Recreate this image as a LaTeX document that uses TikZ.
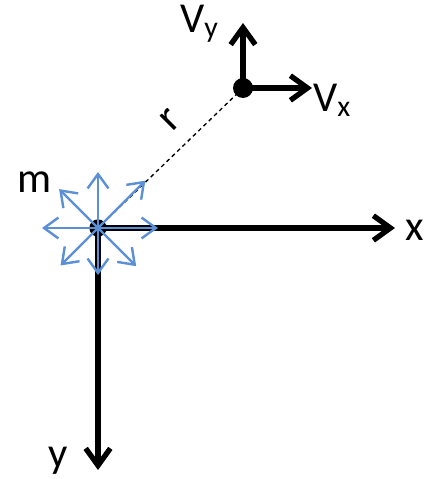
\documentclass[tikz,border=0pt]{standalone}
\usepackage{fontspec}
\setmainfont{Carlito}
\usetikzlibrary{arrows.meta}
\definecolor{forceblue}{HTML}{5B8FD6}
\tikzset{
  dot/.style={circle, fill=black, inner sep=0pt},
  axis/.style={-{Straight Barb[length=4.5mm, width=6.5mm]}, line width=4pt},
  push/.style={-{Straight Barb[length=3.8mm, width=5.5mm]}, line width=1.8pt, draw=forceblue},
  sep/.style={line width=1pt, dash pattern=on 3pt off 2.5pt},
  lbl/.style={font=\fontsize{32}{38}\selectfont, inner sep=0pt, anchor=base west}
}

\begin{document}
\begin{tikzpicture}[x=0.75pt, y=0.75pt]
\useasboundingbox (0,0) rectangle (430,479);
\coordinate (xtip) at (395,251);
\coordinate (ytip) at (98,9);
\coordinate (vxtip) at (312,391);
\coordinate (vytip) at (243,456);
\draw[axis] (98,251) -- (xtip);
\draw[axis] (98,251) -- (ytip);
\node[dot, minimum size=13pt] (m) at (98,251) {};
\node[dot, minimum size=15pt] (p) at (243,391) {};
\draw[sep] (m.center) -- (p.center);
\draw[axis] (p.center) -- (vxtip);
\draw[axis] (p.center) -- (vytip);
\foreach \a/\l in {0/60,45/67,90/56,135/55,180/56,225/53,270/47,315/54}
  \draw[push] (m.center) -- ++(\a:\l);
\node[lbl] (xlab) at (405,238) {x};
\node[lbl] (ylab) at (48,12) {y};
\node[lbl] (mlab) at (17,286) {m};
\node[lbl] (vylab) at (180,446) {V\textsubscript{y}};
\node[lbl] (vxlab) at (313,367) {V\textsubscript{x}};
\node[lbl, anchor=center, rotate=45] (rlab) at (170,359) {r};
\end{tikzpicture}
\end{document}
